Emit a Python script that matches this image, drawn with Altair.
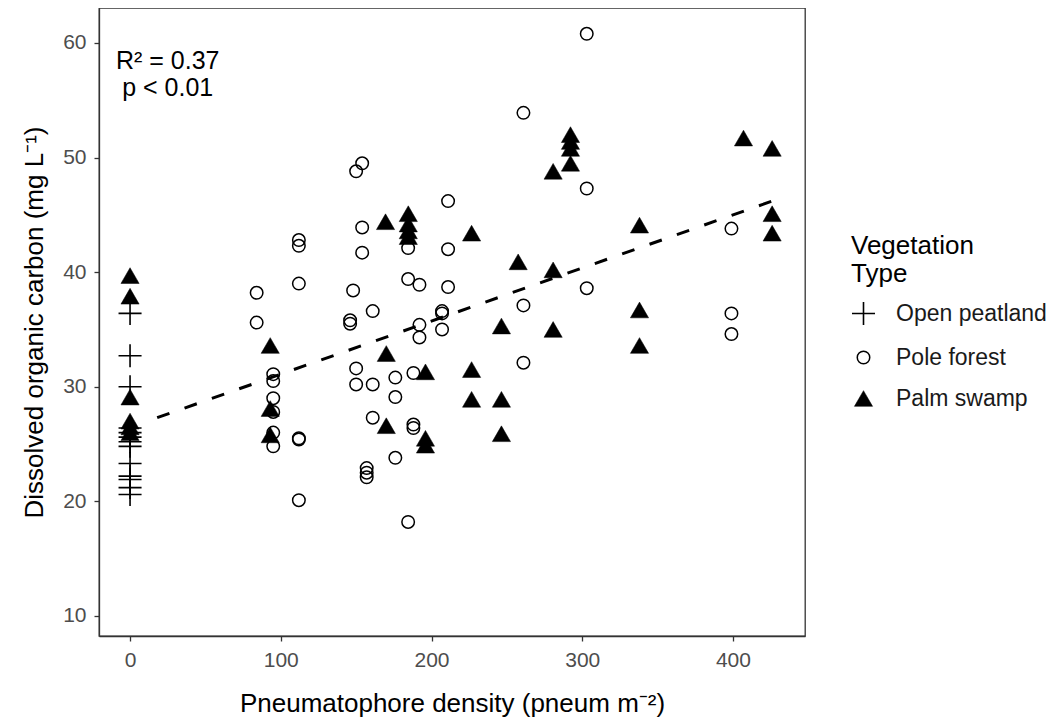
import altair as alt
import pandas as pd

categories = ["Open peatland", "Pole forest", "Palm swamp"]

open_x = [0, 0, 0, 0, 0, 0, 0, 0, 0, 0, 0, 0, 0]
open_y = [36.4, 32.7, 30.0, 26.4, 26.0, 25.6, 25.2, 24.8, 23.3, 22.2, 21.9, 21.2, 20.6]

pole_x = [84, 84, 95, 95, 95, 95, 95, 95, 112, 112, 112, 112, 112, 112,
          148, 146, 146, 150, 150, 150, 154, 154, 154, 157, 157, 157,
          161, 161, 161, 176, 176, 176, 184.5, 184.5, 184.5, 188, 188, 188,
          192, 192, 192, 207, 207, 207, 211, 211, 211, 261, 261, 261,
          303, 303, 303, 399, 399, 399]
pole_y = [38.2, 35.6, 31.1, 30.5, 29.0, 27.8, 26.0, 24.8, 42.8, 42.3, 39.0, 25.5, 25.4, 20.1,
          38.4, 35.8, 35.5, 31.6, 30.2, 48.8, 49.5, 43.9, 41.7, 22.9, 22.5, 22.1,
          36.6, 30.2, 27.3, 30.8, 29.1, 23.8, 42.1, 39.4, 18.2, 31.2, 26.7, 26.4,
          38.9, 35.4, 34.3, 36.6, 36.4, 35.0, 46.2, 42.0, 38.7, 53.9, 37.1, 32.1,
          60.8, 47.3, 38.6, 43.8, 36.4, 34.6]

palm_x = [0, 0, 0, 0, 0, 0, 93, 93, 93, 169.5, 170, 170, 184.6, 184.6, 184.6, 184.6,
          196, 196, 196, 226.6, 226.6, 226.6, 246.4, 246.4, 246.4, 257.5,
          280.7, 280.7, 280.7, 292.2, 292.2, 292.2, 292.2, 338, 338, 338, 407, 426, 426, 426]
palm_y = [39.7, 37.9, 29.1, 27.0, 26.5, 26.0, 33.6, 28.1, 25.8, 44.4, 32.9, 26.6, 45.1, 44.2, 43.6, 43.1,
          31.3, 25.5, 24.9, 43.4, 31.5, 28.9, 35.3, 28.9, 25.9, 40.9,
          48.8, 40.2, 35.0, 52.0, 51.4, 50.8, 49.5, 44.1, 36.7, 33.6, 51.7, 50.8, 45.1, 43.4]

fit_x = [18, 426]
fit_y = [27.3, 46.2]

ann_text = ["R² = 0.37", "p < 0.01"]
ann_x = [25, 25]
ann_y = [58.4, 56.1]

x_ticks = [0, 100, 200, 300, 400]
y_ticks = [10, 20, 30, 40, 50, 60]

rows = []
for name, xs, ys in [(categories[0], open_x, open_y),
                     (categories[1], pole_x, pole_y),
                     (categories[2], palm_x, palm_y)]:
    for xv, yv in zip(xs, ys):
        rows.append({"x": xv, "y": yv, "type": name})
df = pd.DataFrame(rows)
fit_df = pd.DataFrame({"x": fit_x, "y": fit_y})
ann_df = pd.DataFrame({"x": ann_x, "y": ann_y, "t": ann_text})

FONT = "Liberation Sans"
xscale = alt.Scale(domain=[-20.6, 447.8], nice=False, zero=False)
yscale = alt.Scale(domain=[8.25, 63.05], nice=False, zero=False)
leg_title = ["Vegetation", "Type"]

xenc = alt.X("x:Q", scale=xscale,
             axis=alt.Axis(values=x_ticks, title="Pneumatophore density (pneum m⁻²)", titlePadding=20))
yenc = alt.Y("y:Q", scale=yscale,
             axis=alt.Axis(values=y_ticks, title="Dissolved organic carbon (mg L⁻¹)", titlePadding=15))

line = alt.Chart(fit_df).mark_line(color="black", strokeWidth=3, strokeDash=[13, 16]).encode(
    x=xenc, y=yenc)

points = alt.Chart(df).mark_point(opacity=1).encode(
    x=alt.X("x:Q", scale=xscale),
    y=alt.Y("y:Q", scale=yscale),
    shape=alt.Shape("type:N", title=leg_title,
                    scale=alt.Scale(domain=categories,
                                    range=["M-1,0L1,0M0,-1L0,1", "circle", "triangle-up"])),
    fill=alt.Fill("type:N", title=leg_title,
                  scale=alt.Scale(domain=categories, range=["transparent", "transparent", "black"])),
    stroke=alt.Stroke("type:N", title=leg_title,
                      scale=alt.Scale(domain=categories, range=["black", "black", "black"])),
    size=alt.Size("type:N", title=leg_title,
                  scale=alt.Scale(type="ordinal", domain=categories, range=[530, 156, 330])),
    strokeWidth=alt.StrokeWidth("type:N", title=leg_title,
                                scale=alt.Scale(type="ordinal", domain=categories, range=[1.6, 1.5, 0.5])),
)

text = alt.Chart(ann_df).mark_text(font=FONT, fontSize=25, color="black", align="center",
                                   baseline="middle").encode(
    x=alt.X("x:Q", scale=xscale), y=alt.Y("y:Q", scale=yscale), text="t:N")

chart = alt.layer(line, points, text).properties(
    width=706, height=628,
    autosize=alt.AutoSizeParams(type="none"),
    padding={"left": 91, "top": 0, "right": 244, "bottom": 81},
).configure_view(
    stroke="#333333", strokeWidth=1.3
).configure_axis(
    grid=False, labelFont=FONT, labelFontSize=21, labelColor="#4d4d4d",
    titleFont=FONT, titleFontSize=26, titleFontWeight="normal", titleColor="black",
    tickColor="#333333", domainColor="#333333", tickSize=5, labelPadding=8,
    domainWidth=1.3, tickWidth=1.3
).configure_legend(
    orient="none", legendX=752, legendY=225,
    titleFont=FONT, titleFontSize=26, titleFontWeight="normal", titleColor="black",
    titleLineHeight=28, titlePadding=14,
    labelFont=FONT, labelFontSize=23, labelColor="#1a1a1a", labelOffset=20,
    rowPadding=17, padding=0
)

chart.save("out.html", embed_options={"renderer": "svg", "actions": False})
